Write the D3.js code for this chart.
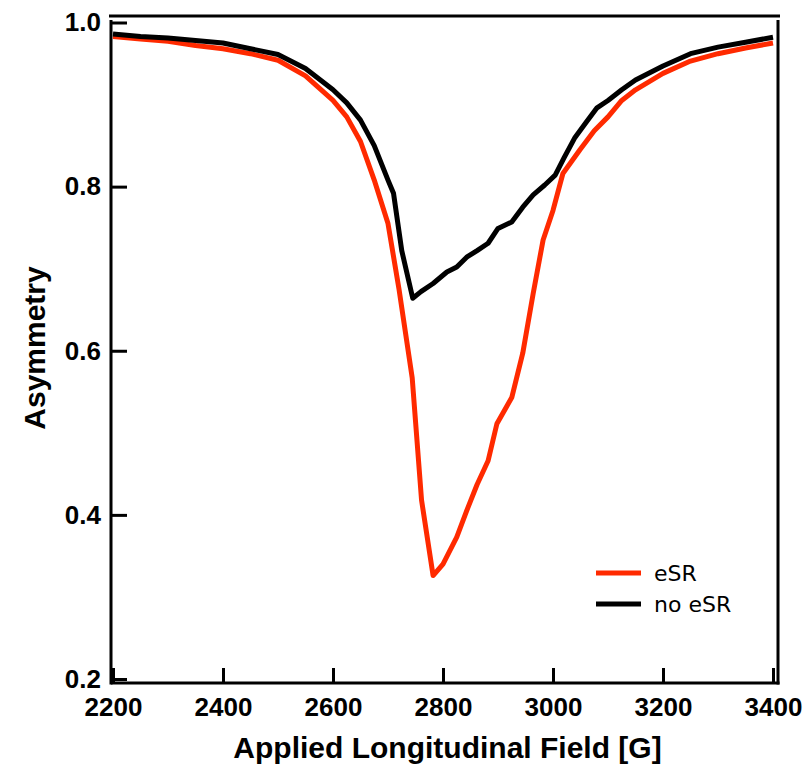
<!DOCTYPE html>
<html>
<head>
<meta charset="utf-8">
<script src="https://cdn.jsdelivr.net/npm/d3@7"></script>
<style>
  body { margin: 0; background: #fff; }
  svg { display: block; }
  .axis text { font-family: "Liberation Sans", Arial, sans-serif; font-weight: bold; font-size: 26px; fill: #000; }
  .axis .tick line { stroke: #000; stroke-width: 3px; }
  .axis .domain { display: none; }
  .title { font-family: "Liberation Sans", Arial, sans-serif; font-weight: bold; font-size: 30px; }
  .legend text { font-family: "DejaVu Sans", sans-serif; font-size: 22px; }
</style>
</head>
<body>
<svg id="chart"></svg>
<script>
// DATA
const xTicks = [2200, 2400, 2600, 2800, 3000, 3200, 3400];
const yTicks = [0.2, 0.4, 0.6, 0.8, 1.0];

// no eSR (black)
const fieldNoEsr = [2200, 2250, 2300, 2350, 2400, 2450, 2500, 2550, 2600, 2625, 2650, 2675, 2700, 2710, 2725, 2745,
  2760, 2782, 2807, 2825, 2843, 2862, 2882, 2900, 2925, 2945, 2964, 2985, 3004, 3020, 3040, 3060, 3080, 3100,
  3125, 3150, 3200, 3250, 3300, 3350, 3400];
const asymNoEsr = [0.986, 0.983, 0.981, 0.978, 0.975, 0.968, 0.961, 0.944, 0.918, 0.902, 0.881, 0.850, 0.808, 0.792,
  0.722, 0.664, 0.672, 0.682, 0.696, 0.702, 0.714, 0.722, 0.731, 0.749, 0.757, 0.775, 0.790, 0.802, 0.814, 0.835,
  0.860, 0.878, 0.896, 0.905, 0.918, 0.930, 0.947, 0.962, 0.970, 0.976, 0.982];

// eSR (red)
const fieldEsr = [2200, 2250, 2300, 2350, 2400, 2450, 2500, 2550, 2575, 2600, 2625, 2650, 2675, 2700, 2720, 2744,
  2761, 2782, 2800, 2825, 2843, 2862, 2882, 2898, 2925, 2945, 2964, 2982, 3000, 3018, 3049, 3075, 3100, 3125,
  3150, 3200, 3250, 3300, 3350, 3400];
const asymEsr = [0.983, 0.980, 0.977, 0.972, 0.968, 0.962, 0.954, 0.935, 0.920, 0.905, 0.885, 0.855, 0.808, 0.755,
  0.675, 0.567, 0.418, 0.326, 0.340, 0.373, 0.405, 0.437, 0.466, 0.511, 0.543, 0.597, 0.670, 0.735, 0.771, 0.816,
  0.845, 0.868, 0.885, 0.905, 0.918, 0.938, 0.953, 0.962, 0.969, 0.975];

const seriesNames = ["eSR", "no eSR"];
const seriesColors = ["#ff2a00", "#000000"];

const width = 807;
const height = 768;

const svg = d3.select("#chart").attr("width", width).attr("height", height);

// frame edges
const frameLeft = 111, frameRight = 778, frameTop = 20, frameBottom = 683;

const x = d3.scaleLinear().domain([2200, 3400]).range([113, 773]);
const y = d3.scaleLinear().domain([0.2, 1.0]).range([679, 22.5]);

// AXES
svg.append("g")
  .attr("class", "axis")
  .attr("transform", `translate(0,${frameBottom})`)
  .call(d3.axisBottom(x).tickValues(xTicks).tickSize(-15).tickPadding(15).tickFormat(d3.format("d")));

svg.append("g")
  .attr("class", "axis")
  .attr("transform", `translate(${frameLeft},0)`)
  .call(d3.axisLeft(y).tickValues(yTicks).tickSize(-16).tickPadding(10).tickFormat(d3.format(".1f")));

// frame lines
const frame = svg.append("g").attr("stroke", "#000").attr("stroke-width", 3);
frame.append("line").attr("x1", frameLeft).attr("x2", frameLeft).attr("y1", frameTop).attr("y2", frameBottom + 1.5);
frame.append("line").attr("x1", frameRight).attr("x2", frameRight).attr("y1", frameTop).attr("y2", frameBottom + 1.5);
frame.append("line").attr("x1", frameLeft).attr("x2", frameRight + 1.5).attr("y1", frameBottom).attr("y2", frameBottom);
frame.append("line").attr("x1", frameLeft - 2).attr("x2", frameRight + 2).attr("y1", 16).attr("y2", 16);

// CURVES
const line = d3.line().x((d) => x(d[0])).y((d) => y(d[1]));
const esr = d3.zip(fieldEsr, asymEsr);
const noEsr = d3.zip(fieldNoEsr, asymNoEsr);

svg.append("path")
  .datum(esr)
  .attr("fill", "none")
  .attr("stroke", seriesColors[0])
  .attr("stroke-width", 5)
  .attr("stroke-linejoin", "round")
  .attr("d", line);

svg.append("path")
  .datum(noEsr)
  .attr("fill", "none")
  .attr("stroke", seriesColors[1])
  .attr("stroke-width", 5)
  .attr("stroke-linejoin", "round")
  .attr("d", line);

// TITLES
svg.append("text")
  .attr("class", "title")
  .attr("x", (frameLeft + frameRight) / 2 + 3)
  .attr("y", 758)
  .attr("text-anchor", "middle")
  .text("Applied Longitudinal Field [G]");

svg.append("text")
  .attr("class", "title")
  .attr("transform", "translate(45,348) rotate(-90)")
  .attr("text-anchor", "middle")
  .text("Asymmetry");

// LEGEND
const legend = svg.append("g").attr("class", "legend").attr("transform", "translate(596,573)");
const items = legend.selectAll("g")
  .data(seriesNames)
  .enter()
  .append("g")
  .attr("transform", (d, i) => `translate(0,${i * 31})`);
items.append("line")
  .attr("x1", 0).attr("x2", 45)
  .attr("stroke", (d, i) => seriesColors[i])
  .attr("stroke-width", 5);
items.append("text")
  .attr("x", 58)
  .attr("dy", "0.36em")
  .text((d) => d);
</script>
</body>
</html>
